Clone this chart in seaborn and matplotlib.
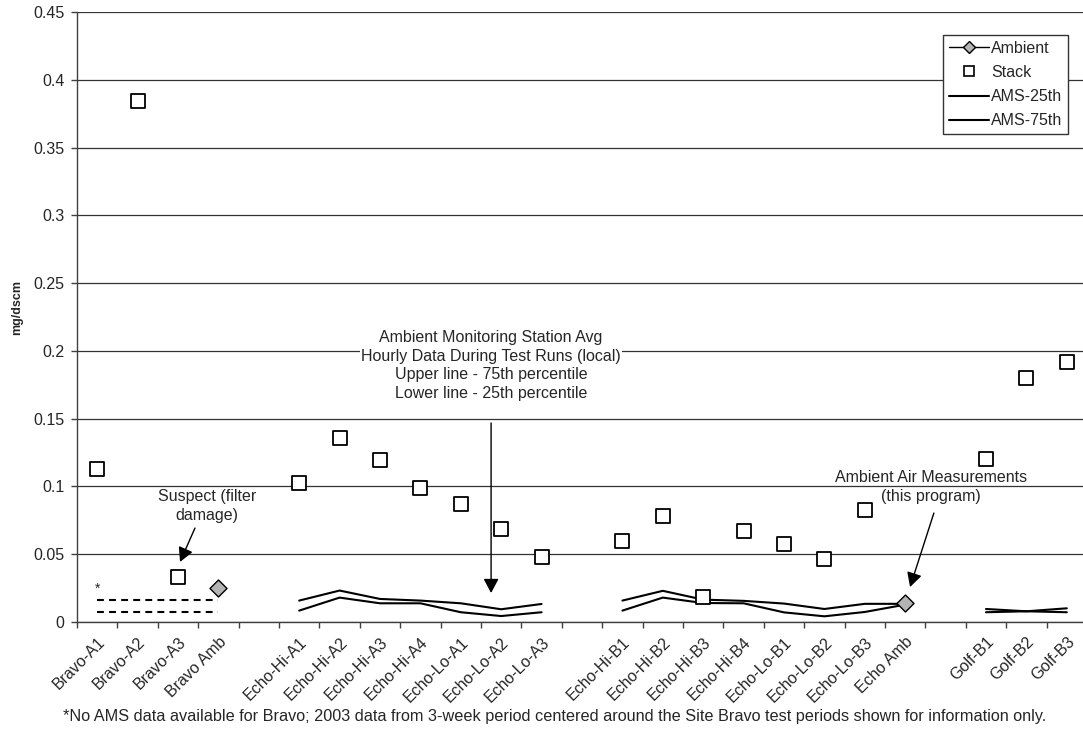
import numpy as np
import pandas as pd
import matplotlib
matplotlib.use("Agg")
import matplotlib.pyplot as plt
import seaborn as sns
from matplotlib.lines import Line2D
from matplotlib.ticker import FuncFormatter

# ---- data -----------------------------------------------------------------
categories = [
    "Bravo-A1", "Bravo-A2", "Bravo-A3", "Bravo Amb", "",
    "Echo-Hi-A1", "Echo-Hi-A2", "Echo-Hi-A3", "Echo-Hi-A4",
    "Echo-Lo-A1", "Echo-Lo-A2", "Echo-Lo-A3", "",
    "Echo-Hi-B1", "Echo-Hi-B2", "Echo-Hi-B3", "Echo-Hi-B4",
    "Echo-Lo-B1", "Echo-Lo-B2", "Echo-Lo-B3", "Echo Amb", "",
    "Golf-B1", "Golf-B2", "Golf-B3",
]
nan = np.nan
stack = [0.1126, 0.3844, 0.0330, nan, nan,
         0.1023, 0.1359, 0.1195, 0.0986, 0.0870, 0.0684, 0.0480, nan,
         0.0600, 0.0782, 0.0182, 0.0671, 0.0577, 0.0462, 0.0826, nan, nan,
         0.1202, 0.1797, 0.1920]
ambient = [nan, nan, nan, 0.0250, nan,
           nan, nan, nan, nan, nan, nan, nan, nan,
           nan, nan, nan, nan, nan, nan, nan, 0.0142, nan,
           nan, nan, nan]
ams_75th = [0.0163, 0.0163, 0.0163, 0.0163, nan,
            0.0158, 0.0232, 0.0170, 0.0158, 0.0138, 0.0094, 0.0133, nan,
            0.0158, 0.0230, 0.0165, 0.0156, 0.0136, 0.0096, 0.0134, 0.0134, nan,
            0.0096, 0.0079, 0.0072]
ams_25th = [0.0074, 0.0074, 0.0074, 0.0074, nan,
            0.0084, 0.0180, 0.0138, 0.0138, 0.0072, 0.0044, 0.0072, nan,
            0.0084, 0.0180, 0.0140, 0.0138, 0.0071, 0.0042, 0.0074, 0.0128, nan,
            0.0072, 0.0079, 0.0101]
# site groups: Bravo AMS values are off-period reference data (drawn dashed)
groups = ["Bravo"] * 5 + ["Echo-A"] * 8 + ["Echo-B"] * 9 + ["Golf"] * 3

df = pd.DataFrame({
    "pos": np.arange(len(categories)),
    "category": categories,
    "group": groups,
    "Stack": stack,
    "Ambient": ambient,
    "AMS-75th": ams_75th,
    "AMS-25th": ams_25th,
})

# ---- figure ---------------------------------------------------------------
sns.set_theme(style="white")
plt.rcParams["font.family"] = ["Liberation Sans", "DejaVu Sans"]
FS = 11.5

fig = plt.figure(figsize=(10.83, 7.42), dpi=100)
ax = fig.add_axes([77 / 1083, 120 / 742, 1010 / 1083, 610 / 742])

# AMS percentile lines, one segment per site group
for grp, sub in df.groupby("group", sort=False):
    sub = sub.dropna(subset=["AMS-75th"])
    ls = (0, (3.3, 2.5)) if grp == "Bravo" else "-"
    for col in ["AMS-75th", "AMS-25th"]:
        sns.lineplot(data=sub, x="pos", y=col, ax=ax, color="black",
                     lw=1.5, linestyle=ls, estimator=None, sort=False,
                     legend=False, zorder=2)

sns.scatterplot(data=df, x="pos", y="Stack", ax=ax, marker="s", s=95,
                color="white", edgecolor="black", linewidth=1.3,
                legend=False, zorder=4)
sns.scatterplot(data=df, x="pos", y="Ambient", ax=ax, marker="D", s=75,
                color="#b4b4b4", edgecolor="black", linewidth=1.0,
                legend=False, zorder=4)

# ---- axes -----------------------------------------------------------------
ax.set_xlim(-0.5, len(categories) - 0.5)
ax.set_ylim(0, 0.45)
ax.set_xticks(df["pos"])
ax.set_xticklabels(categories, rotation=45, ha="right",
                   rotation_mode="anchor", fontsize=FS)
ax.set_xticks(np.arange(-0.5, len(categories), 1.0), minor=True)
ax.tick_params(axis="x", which="major", length=0, pad=9)
ax.tick_params(axis="x", which="minor", length=4, width=1,
               color="#404040", direction="out", bottom=True)
ax.set_yticks(np.arange(0, 0.451, 0.05))
ax.yaxis.set_major_formatter(
    FuncFormatter(lambda v, _: f"{v:.2f}".rstrip("0").rstrip(".")))
ax.tick_params(axis="y", length=4, width=1, color="#404040",
               direction="out", left=True, labelsize=FS, pad=5)
ax.grid(axis="y", color="#333333", lw=0.9)
ax.grid(axis="x", visible=False)
ax.set_axisbelow(True)
sns.despine(ax=ax, top=True, right=True)
for side in ["left", "bottom"]:
    ax.spines[side].set_color("#404040")
    ax.spines[side].set_linewidth(1.0)

ax.set_xlabel("")
ax.set_ylabel("mg/dscm", fontsize=9, fontweight="bold")
ax.yaxis.set_label_coords(-0.053, 0.515)

# ---- annotations ----------------------------------------------------------
arrow = dict(arrowstyle="-|>,head_length=0.75,head_width=0.4",
             color="black", lw=1.0, shrinkA=0, shrinkB=0)

ax.text(0.02, 0.0243, "*", fontsize=10, ha="center", va="center")

ax.text(2.72, 0.0856, "Suspect (filter\ndamage)", fontsize=FS,
        ha="center", va="center", linespacing=1.3)
ax.annotate("", xy=(2.05, 0.0443), xytext=(2.42, 0.0693),
            arrowprops=arrow, fontsize=FS)

ax.text(9.75, 0.1892,
        "Ambient Monitoring Station Avg\nHourly Data During Test Runs (local)\n"
        "Upper line - 75th percentile\nLower line - 25th percentile",
        fontsize=FS, ha="center", va="center", linespacing=1.3,
        bbox=dict(facecolor="white", edgecolor="none", pad=1))
ax.annotate("", xy=(9.75, 0.0214), xytext=(9.75, 0.1468),
            arrowprops=arrow, fontsize=FS)

ax.text(20.64, 0.0996, "Ambient Air Measurements\n(this program)",
        fontsize=FS, ha="center", va="center", linespacing=1.3)
ax.annotate("", xy=(20.12, 0.0258), xytext=(20.71, 0.0804),
            arrowprops=arrow, fontsize=FS)

# ---- legend ---------------------------------------------------------------
handles = [
    Line2D([], [], color="black", lw=1.0, marker="D", markersize=6.5,
           markerfacecolor="#b4b4b4", markeredgecolor="black"),
    Line2D([], [], ls="none", marker="s", markersize=7.5,
           markerfacecolor="white", markeredgecolor="black", markeredgewidth=1.2),
    Line2D([], [], color="black", lw=1.5),
    Line2D([], [], color="black", lw=1.5),
]
labels = ["Ambient", "Stack", "AMS-25th", "AMS-75th"]
leg = ax.legend(handles, labels, loc="upper right",
                bbox_to_anchor=(1068 / 1083, 1 - 35 / 742),
                bbox_transform=fig.transFigure, fontsize=FS,
                frameon=True, fancybox=False, framealpha=1,
                edgecolor="#333333", borderpad=0.35, labelspacing=0.58,
                handlelength=2.5, handletextpad=0.15, borderaxespad=0)
leg.get_frame().set_linewidth(1.0)

fig.text(555 / 1083, 1 - 716 / 742,
         "*No AMS data available for Bravo; 2003 data from 3-week period "
         "centered around the Site Bravo test periods shown for information only.",
         fontsize=11.7, ha="center", va="center")

fig.savefig("out.png", dpi=100, facecolor="white")
